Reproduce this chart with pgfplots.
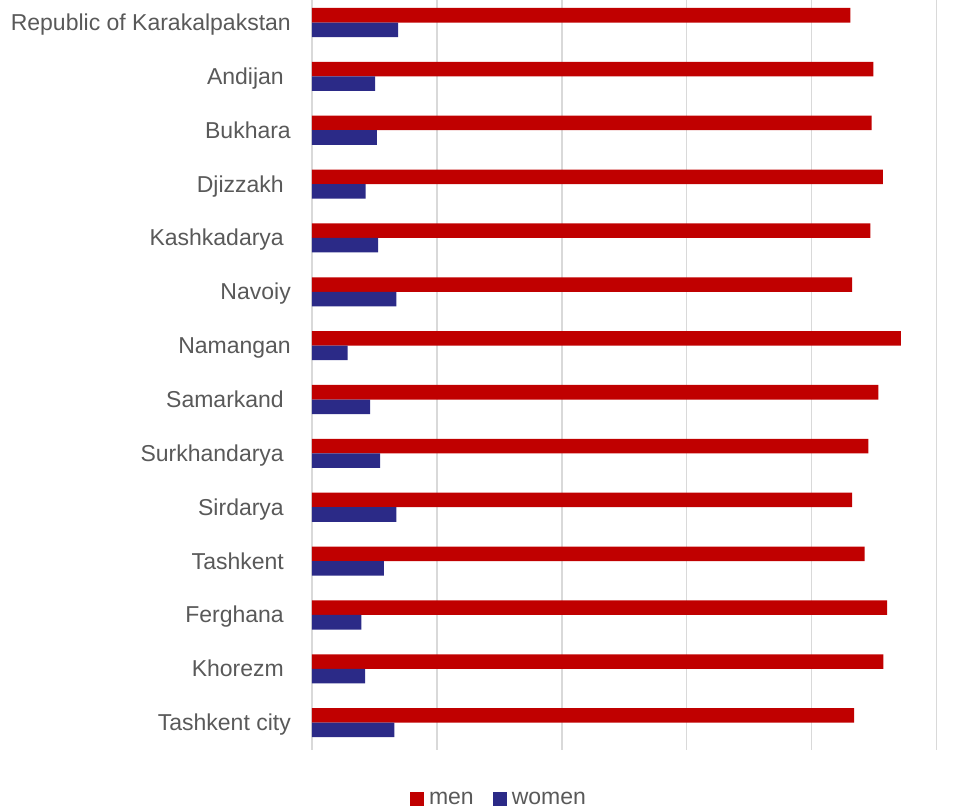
\documentclass[border=0pt]{standalone}
\usepackage{fontspec}
\setmainfont{Liberation Sans}
\usepackage{pgfplots}
\pgfplotsset{compat=1.18}
\definecolor{menred}{RGB}{192,0,0}
\definecolor{womenblue}{RGB}{43,42,135}
\definecolor{labgray}{RGB}{89,89,89}
\definecolor{gridgray}{RGB}{217,217,217}
\pgfplotstableread{
y men women
0  86.2 13.8
1  89.9 10.1
2  89.6 10.4
3  91.4 8.6
4  89.4 10.6
5  86.5 13.5
6  94.3 5.7
7  90.7 9.3
8  89.1 10.9
9  86.5 13.5
10 88.5 11.5
11 92.1 7.9
12 91.5 8.5
13 86.8 13.2
}\datatable
\newcommand{\tsp}{\hspace*{7pt}}
\begin{document}
\begin{tikzpicture}
\begin{axis}[
  at={(0pt,0pt)}, anchor=south west,
  scale only axis, width=624.5pt, height=749.6pt,
  xmin=0, xmax=100,
  ymin=-0.418, ymax=13.5, y dir=reverse,
  xtick={0,20,...,100}, xticklabels={},
  xmajorgrids, major grid style={draw=gridgray, line width=1.5pt},
  axis line style={draw=none},
  major tick length=0pt,
  ytick={0,...,13},
  yticklabels={Republic of Karakalpakstan, Andijan\tsp, Bukhara, Djizzakh\tsp, Kashkadarya\tsp, Navoiy, Namangan, Samarkand\tsp, Surkhandarya\tsp, Sirdarya\tsp, Tashkent\tsp, Ferghana\tsp, Khorezm\tsp, Tashkent city},
  yticklabel style={font=\fontsize{23}{27}\selectfont, text=labgray, anchor=base east, inner sep=0pt, xshift=-21pt, yshift=-8pt},
  legend style={draw=none, fill=none, at={(0.2994,-0.0659)}, anchor=center,
    legend columns=2, font=\fontsize{23}{27}\selectfont, text=labgray,
    /tikz/every odd column/.append style={column sep=3pt},
    /tikz/every even column/.append style={column sep=17pt},
    inner sep=0pt},
  legend cell align=left,
]
\addplot[xbar, fill=menred, draw=none, bar width=0.27, bar shift=-0.135,
  legend image code/.code={\fill[menred] (0pt,-7pt) rectangle (14pt,7pt);}]
  table[x=men, y=y] {\datatable};
\addplot[xbar, fill=womenblue, draw=none, bar width=0.27, bar shift=0.135,
  legend image code/.code={\fill[womenblue] (0pt,-7pt) rectangle (14pt,7pt);}]
  table[x=women, y=y] {\datatable};
\legend{men, women}
\end{axis}
\pgfresetboundingbox
\path (-312pt,-59.4pt) rectangle (658pt,749.6pt);
\end{tikzpicture}
\end{document}
